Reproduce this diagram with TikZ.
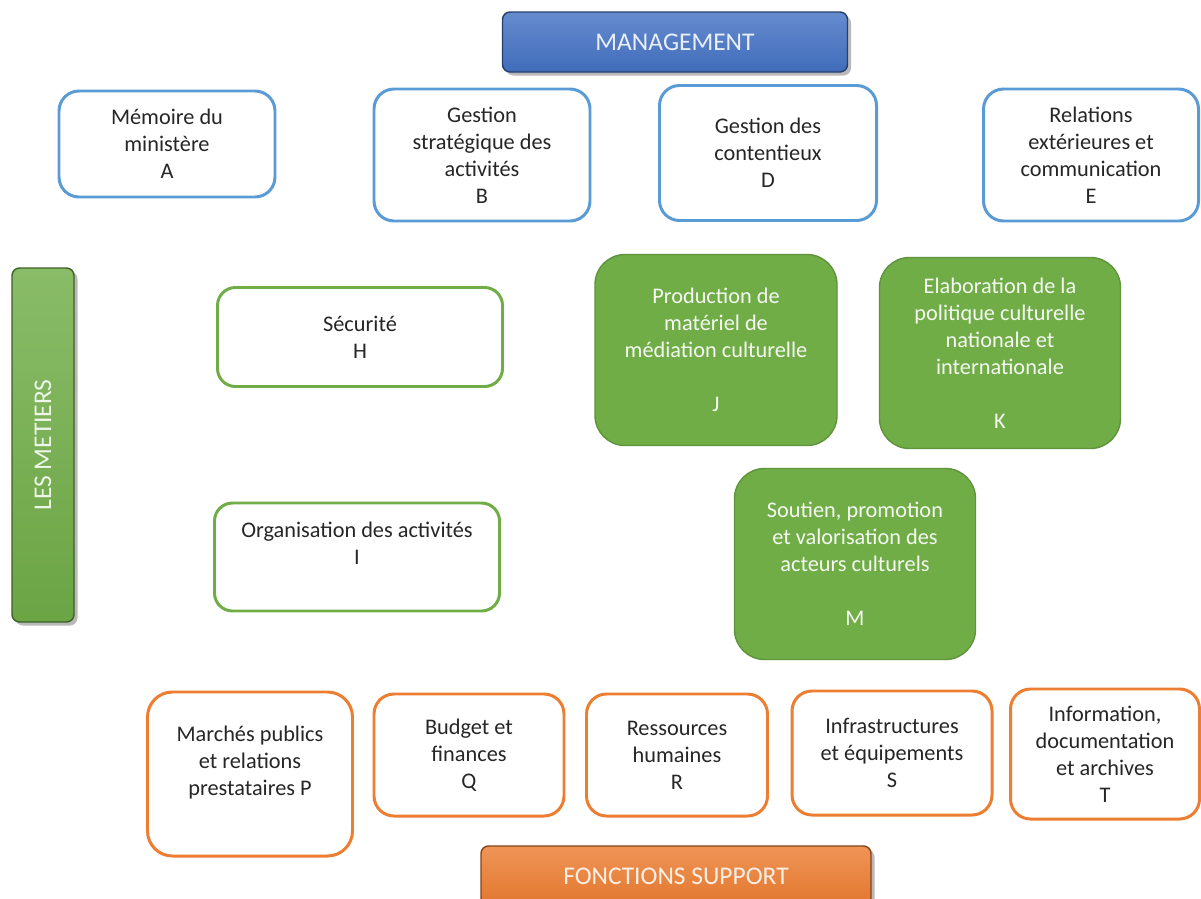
\documentclass[tikz,border=0pt]{standalone}
\usepackage{fontspec}
\setmainfont{Carlito}
\usetikzlibrary{shadows}
\definecolor{mgmtblue}{HTML}{4472C4}
\definecolor{lineblue}{HTML}{5B9BD5}
\definecolor{metgreen}{HTML}{70AD47}
\definecolor{supporange}{HTML}{ED7D31}
\definecolor{txtgray}{HTML}{262626}
\tikzset{
    sized/.style 2 args={minimum width=#1*0.02cm, minimum height=#2*0.02cm},
    boxfont/.style={font=\fontsize{12.7}{15.4}\selectfont},
    outlinebox/.style={draw=#1, line width=1.7pt, rounded corners=0.4cm, fill=white,
        text=txtgray, align=center, inner sep=0pt, boxfont},
    greenbox/.style={draw=metgreen!85!black, line width=0.8pt, rounded corners=0.6cm,
        fill=metgreen, text=white!93!metgreen, align=center, inner sep=0pt, boxfont},
    titlebar/.style={draw=#1!55!black, line width=0.8pt, rounded corners=0.15cm,
        top color=#1!82!white, bottom color=#1!95!black, text=white!88!#1, inner sep=0pt,
        font=\fontsize{14.5}{17}\selectfont,
        drop shadow={shadow xshift=2pt, shadow yshift=-2pt, opacity=0.55}}
}
\begin{document}
\begin{tikzpicture}[x=0.02cm, y=-0.02cm]
    \useasboundingbox (0,0) rectangle (1201,899);

    % management
    \node[titlebar=mgmtblue, sized={345}{60}] (mgmtbar) at (675,42) {MANAGEMENT};
    \node[outlinebox=lineblue, sized={216}{106}] (memoire) at (167,144) {Mémoire du\\ministère\\A};
    \node[outlinebox=lineblue, sized={216}{132}] (strategie) at (482,155) {Gestion\\stratégique des\\activités\\B};
    \node[outlinebox=lineblue, sized={217}{135}] (contentieux) at (768,153) {Gestion des\\contentieux\\D};
    \node[outlinebox=lineblue, sized={215}{132}] (relext) at (1091,155) {Relations\\extérieures et\\communication\\E};

    % metiers
    \node[titlebar=metgreen, sized={354}{62}, rotate=90] (metiersbar) at (43,445) {LES METIERS};
    \node[outlinebox=metgreen, sized={285}{99}, rounded corners=0.36cm] (securite) at (360,337) {Sécurité\\H};
    \node[outlinebox=metgreen, sized={285}{108}, rounded corners=0.36cm] (organisation) at (357,557) {Organisation des activités\\I\\~};
    \node[greenbox, sized={242}{191}] (production) at (716,350) {Production de\\matériel de\\médiation culturelle\\~\\J};
    \node[greenbox, sized={241}{191}] (elaboration) at (1000,353) {Elaboration de la\\politique culturelle\\nationale et\\internationale\\~\\K};
    \node[greenbox, sized={241}{191}] (soutien) at (855,564) {Soutien, promotion\\et valorisation des\\acteurs culturels\\~\\M};

    % fonctions support
    \node[outlinebox=supporange, sized={205}{164}, rounded corners=0.5cm] (marches) at (250,774) {Marchés publics\\et relations\\prestataires P\\~};
    \node[outlinebox=supporange, sized={190}{122}] (budget) at (469,755) {Budget et\\finances\\Q};
    \node[outlinebox=supporange, sized={181}{122}] (rh) at (677,755) {Ressources\\humaines\\R};
    \node[outlinebox=supporange, sized={200}{124}] (infra) at (892,753) {Infrastructures\\et équipements\\S};
    \node[outlinebox=supporange, sized={189}{130}] (info) at (1105,754) {Information,\\documentation\\et archives\\T};
    \node[titlebar=supporange, sized={390}{60}] (supportbar) at (676,876) {FONCTIONS SUPPORT};
\end{tikzpicture}
\end{document}
